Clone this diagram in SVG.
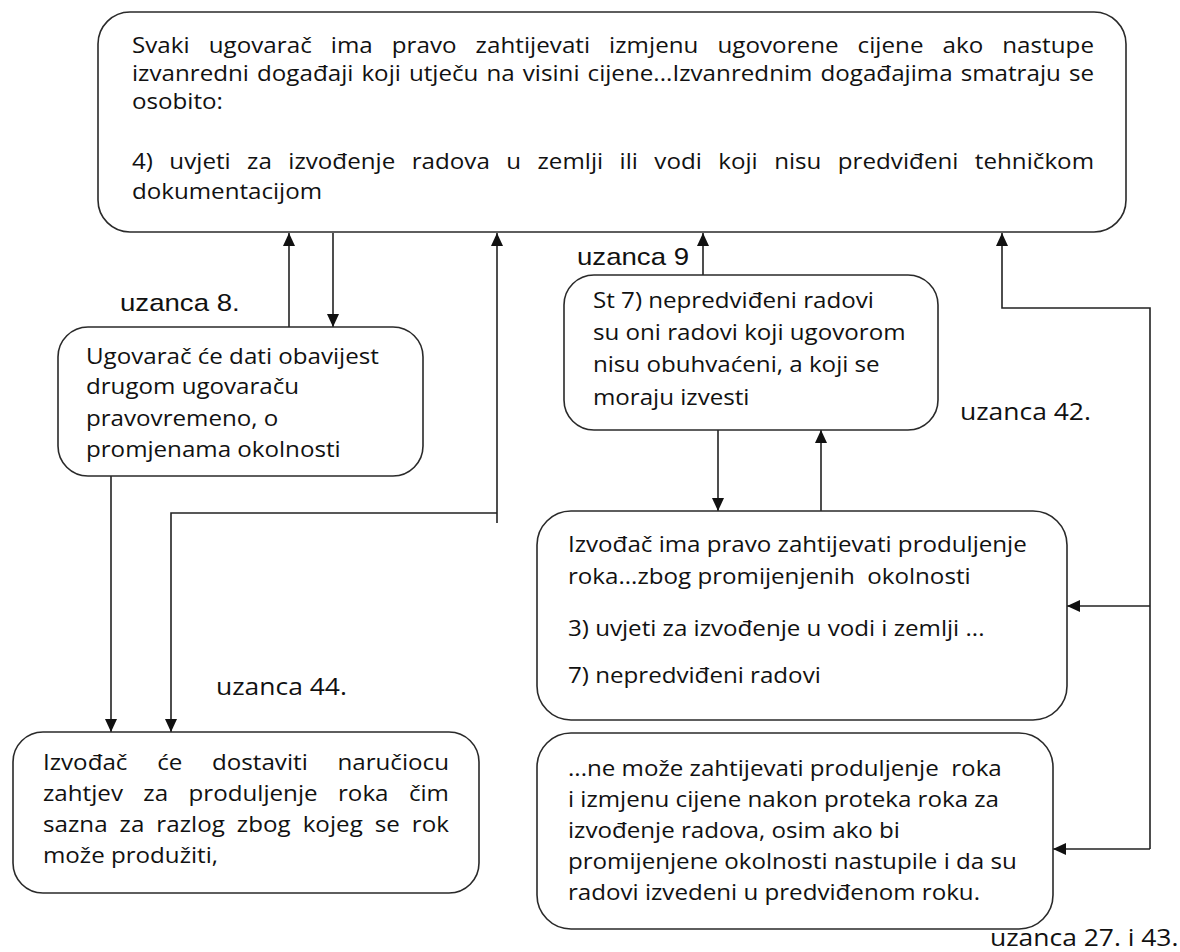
<svg xmlns="http://www.w3.org/2000/svg" width="1180" height="952" viewBox="0 0 1180 952">
<style>
.box{fill:#fff;stroke:#2a2a2a;stroke-width:1.6}
.t{font-family:"Open Sans","Noto Sans",sans-serif;font-size:21px;fill:#111}
.l{font-family:"Open Sans","Noto Sans",sans-serif;font-size:23px;fill:#111}
.a{font-family:"Liberation Sans",Arial,sans-serif;font-size:24px;fill:#111}
.c{fill:none;stroke:#222;stroke-width:1.6}
</style>
<defs>
<marker id="ah" markerUnits="userSpaceOnUse" markerWidth="13" markerHeight="12" refX="13" refY="6" orient="auto">
<path d="M0,0 L13,6 L0,12 z" fill="#111"/>
</marker>
</defs>
<rect width="1180" height="952" fill="#fff"/>
<g id="connectors">
<path class="c" d="M289,327 V233" marker-end="url(#ah)"/>
<path class="c" d="M333,233 V327" marker-end="url(#ah)"/>
<path class="c" d="M111,476 V732" marker-end="url(#ah)"/>
<path class="c" d="M497,523 V233" marker-end="url(#ah)"/>
<path class="c" d="M497,513 H171 V732" marker-end="url(#ah)"/>
<path class="c" d="M703,275 V233" marker-end="url(#ah)"/>
<path class="c" d="M718,430 V511" marker-end="url(#ah)"/>
<path class="c" d="M821,511 V430" marker-end="url(#ah)"/>
<path class="c" d="M1150,849 V308 H1002 V233" marker-end="url(#ah)"/>
<path class="c" d="M1150,606 H1067" marker-end="url(#ah)"/>
<path class="c" d="M1150,849 H1053" marker-end="url(#ah)"/>
</g>
<g id="node-top">
<rect class="box" x="98" y="12" width="1028" height="220" rx="32"/>
<g transform="scale(1.15 1)">
<text class="t" x="114.78" y="53" word-spacing="11" textLength="836.5" lengthAdjust="spacing">Svaki ugovarač ima pravo zahtijevati izmjenu ugovorene cijene ako nastupe</text>
<text class="t" x="114.78" y="81" word-spacing="1.5" textLength="836.5" lengthAdjust="spacing">izvanredni događaji koji utječu na visini cijene...Izvanrednim događajima smatraju se</text>
<text class="t" x="114.78" y="109">osobito:</text>
<text class="t" x="114.78" y="169" word-spacing="8.8" textLength="836.5" lengthAdjust="spacing">4) uvjeti za izvođenje radova u zemlji ili vodi koji nisu predviđeni tehničkom</text>
<text class="t" x="114.78" y="199">dokumentacijom</text>
</g>
</g>
<g id="node-uzanca8">
<rect class="box" x="58" y="327" width="365" height="149" rx="30"/>
<g transform="scale(1.15 1)">
<text class="t" x="74.78" y="364">Ugovarač će dati obavijest</text>
<text class="t" x="74.78" y="394">drugom ugovaraču</text>
<text class="t" x="74.78" y="426">pravovremeno, o</text>
<text class="t" x="74.78" y="457">promjenama okolnosti</text>
</g>
</g>
<g id="node-uzanca44">
<rect class="box" x="13" y="732" width="466" height="161" rx="30"/>
<g transform="scale(1.15 1)">
<text class="t" x="37.39" y="770" word-spacing="20.4" textLength="353" lengthAdjust="spacing">Izvođač će dostaviti naručiocu</text>
<text class="t" x="37.39" y="801" word-spacing="12.2" textLength="353" lengthAdjust="spacing">zahtjev za produljenje roka čim</text>
<text class="t" x="37.39" y="832" word-spacing="4.9" textLength="353" lengthAdjust="spacing">sazna za razlog zbog kojeg se rok</text>
<text class="t" x="37.39" y="863">može produžiti,</text>
</g>
</g>
<g id="node-uzanca9">
<rect class="box" x="564" y="275" width="374" height="155" rx="30"/>
<g transform="scale(1.15 1)">
<text class="t" x="515.65" y="308">St 7) nepredviđeni radovi</text>
<text class="t" x="515.65" y="340">su oni radovi koji ugovorom</text>
<text class="t" x="515.65" y="372">nisu obuhvaćeni, a koji se</text>
<text class="t" x="515.65" y="405">moraju izvesti</text>
</g>
</g>
<g id="node-uzanca42">
<rect class="box" x="537" y="511" width="530" height="209" rx="34"/>
<g transform="scale(1.15 1)">
<text class="t" x="493.91" y="552">Izvođač ima pravo zahtijevati produljenje</text>
<text class="t" x="493.91" y="584" xml:space="preserve">roka...zbog promijenjenih  okolnosti</text>
<text class="t" x="493.91" y="636">3) uvjeti za izvođenje u vodi i zemlji ...</text>
<text class="t" x="493.91" y="683">7) nepredviđeni radovi</text>
</g>
</g>
<g id="node-uzanca27-43">
<rect class="box" x="537" y="733" width="516" height="196" rx="34"/>
<g transform="scale(1.15 1)">
<text class="t" x="493.91" y="776" xml:space="preserve">...ne može zahtijevati produljenje  roka</text>
<text class="t" x="493.91" y="807">i izmjenu cijene nakon proteka roka za</text>
<text class="t" x="493.91" y="838">izvođenje radova, osim ako bi</text>
<text class="t" x="493.91" y="869">promijenjene okolnosti nastupile i da su</text>
<text class="t" x="493.91" y="900">radovi izvedeni u predviđenom roku.</text>
</g>
</g>
<g id="labels" transform="scale(1.15 1)">
<text class="a" x="104.35" y="311">uzanca 8.</text>
<text class="a" x="501.74" y="265">uzanca 9</text>
<text class="l" x="187.83" y="695">uzanca 44.</text>
<text class="l" x="834.78" y="420">uzanca 42.</text>
<text class="l" x="860.87" y="946">uzanca 27. i 43.</text>
</g>
</svg>
